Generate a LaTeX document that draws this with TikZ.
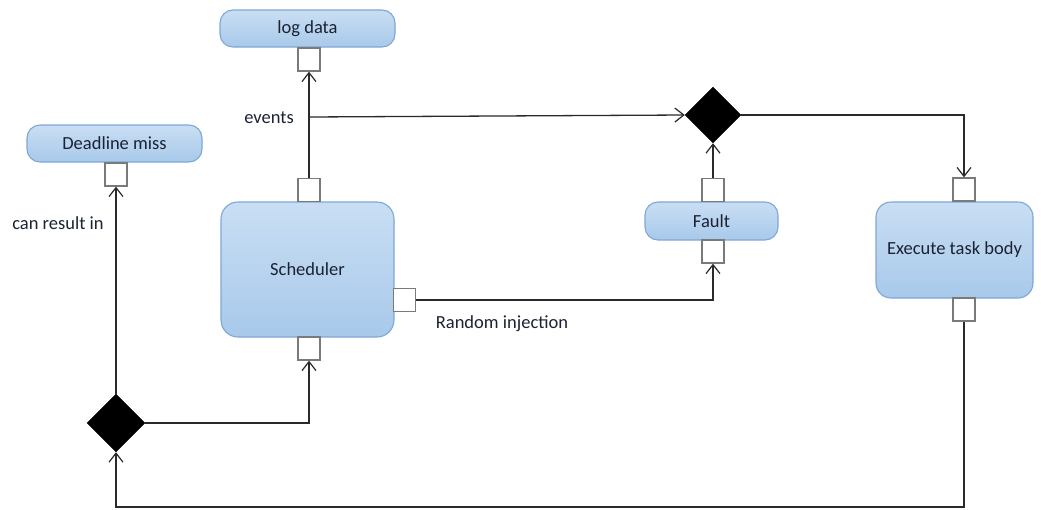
\documentclass[tikz,border=0pt]{standalone}
\usepackage{fontspec}
\setmainfont{Carlito}
\usetikzlibrary{shapes.geometric,arrows.meta}
\definecolor{actfillA}{HTML}{C9DEF3}
\definecolor{actfillB}{HTML}{A8C9EA}
\definecolor{actline}{HTML}{7FA7D6}
\definecolor{pinline}{HTML}{7A7A7A}
\definecolor{flowline}{HTML}{2A2A2A}
\definecolor{txt}{HTML}{1A2233}
\tikzset{
  activity/.style={draw=actline, line width=1.1pt, top color=actfillA, bottom color=actfillB,
    rounded corners=13pt, inner sep=0pt, font=\fontsize{18.5}{21}\selectfont, text=txt},
  pinbox/.style={draw=pinline, line width=1.3pt, fill=white, minimum width=22pt,
    minimum height=23pt, inner sep=0pt},
  decision/.style={diamond, fill=black, draw=black, minimum width=56pt, minimum height=56pt, inner sep=0pt},
  flow/.style={draw=flowline, line width=1.3pt},
  arr/.style={flow, -{Straight Barb[length=9pt,width=14pt,line width=1.2pt]}},
  lbl/.style={font=\fontsize{18.5}{21}\selectfont, text=txt, inner sep=0pt}
}
\begin{document}
\begin{tikzpicture}[x=1pt,y=-1pt]
\useasboundingbox (0,0) rectangle (1041,509);

% activities
\node[activity, minimum width=175pt, minimum height=37pt] (logdata) at (307.5,28.5) {log data};
\node[activity, minimum width=175pt, minimum height=37pt] (deadline) at (114.5,143.5) {Deadline miss};
\node[activity, rounded corners=17pt, minimum width=173pt, minimum height=135pt] (sched) at (307.5,269.5) {Scheduler};
\node[activity, minimum width=133pt, minimum height=38pt] (fault) at (711.5,221) {Fault};
\node[activity, rounded corners=15pt, minimum width=157pt, minimum height=96pt] (exec) at (954.5,250) {Execute task body};

% pins
\node[pinbox] (logpin) at (309,59.5) {};
\node[pinbox] (dlpin) at (116,174.5) {};
\node[pinbox] (schtop) at (309,190) {};
\node[pinbox] (schright) at (404.5,300) {};
\node[pinbox] (schbot) at (309,348.5) {};
\node[pinbox] (fltop) at (713,190) {};
\node[pinbox] (flbot) at (713,251.5) {};
\node[pinbox] (extop) at (964,189.5) {};
\node[pinbox] (exbot) at (964,309.5) {};

% decisions
\node[decision] (topdec) at (713,115) {};
\node[decision, minimum width=58pt, minimum height=58pt] (botdec) at (116,423) {};

% junction and loop corner
\coordinate (evj) at (309,117);
\coordinate (loop) at (964,507);

% connectors
\draw[arr] (schtop.north) -- (logpin.south);
\draw[arr] (evj) -- (topdec.west);
\draw[arr] (topdec.east) -| (extop.north);
\draw[arr] (fltop.north) -- (topdec.south);
\draw[arr] (schright.east) -| (flbot.south);
\draw[arr] (exbot.south) -- (loop) -| (botdec.south);
\draw[arr] (botdec.east) -| (schbot.south);
\draw[arr] (botdec.north) -- (dlpin.south);

% labels
\node[lbl, anchor=east] (evlbl) at (294,118) {events};
\node[lbl] (crlbl) at (58,223) {can result in};
\node[lbl] (rilbl) at (502,324) {Random injection};
\end{tikzpicture}
\end{document}
